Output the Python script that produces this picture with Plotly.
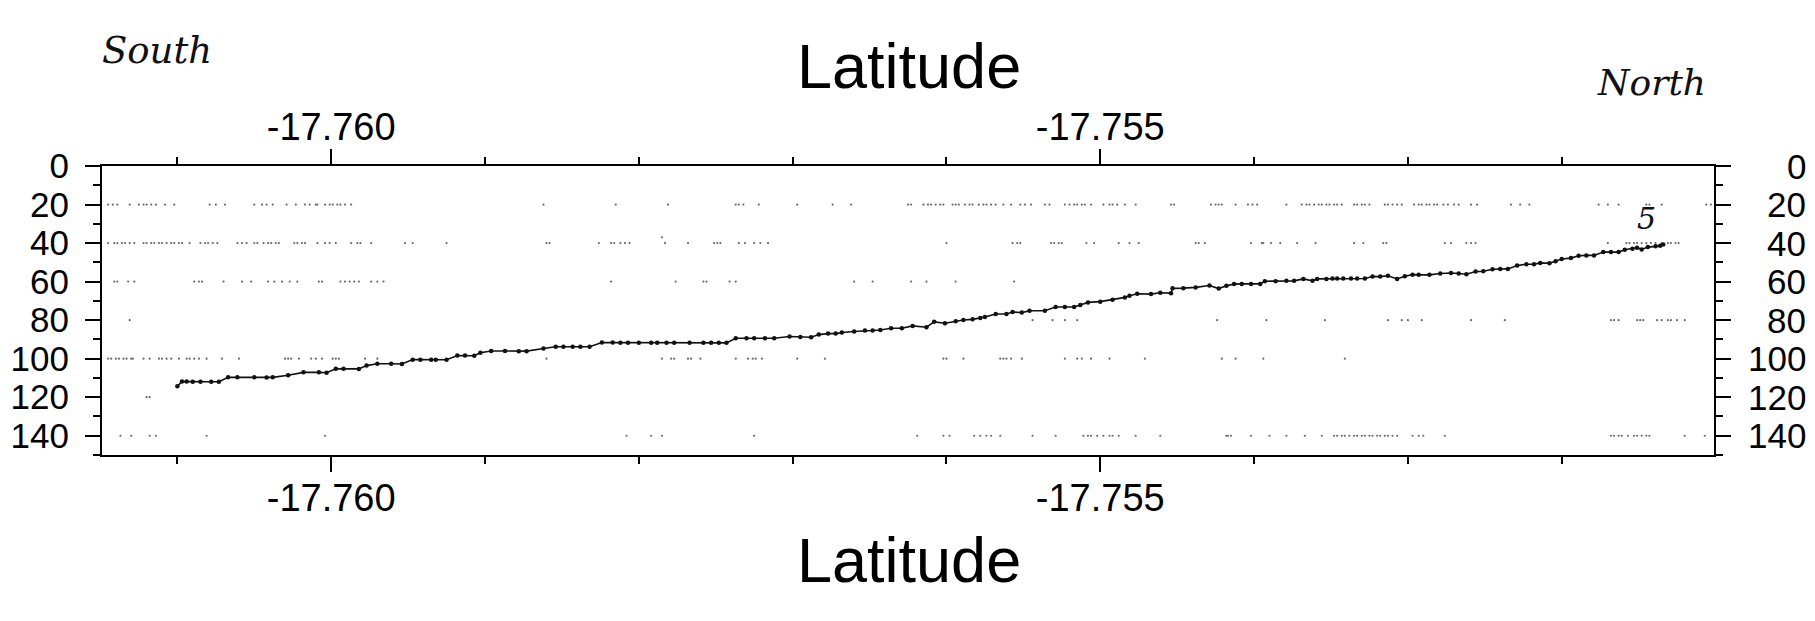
import plotly.graph_objects as go

# ---- main profile (latitude vs depth) ----
lat = [-17.76100, -17.76097, -17.76094, -17.76090, -17.76085, -17.76078, -17.76073, -17.76067, -17.76061,
       -17.76050, -17.76042, -17.76038, -17.76028, -17.76018, -17.76008, -17.76003, -17.75997, -17.75992,
       -17.75982, -17.75977, -17.75970, -17.75961, -17.75954, -17.75947, -17.75942, -17.75935, -17.75932,
       -17.75925, -17.75918, -17.75913, -17.75907, -17.75903, -17.75896, -17.75887, -17.75878, -17.75873,
       -17.75862, -17.75854, -17.75849, -17.75843, -17.75838, -17.75832, -17.75824, -17.75817, -17.75812,
       -17.75807, -17.75800, -17.75792, -17.75788, -17.75782, -17.75777, -17.75767, -17.75758, -17.75753,
       -17.75748, -17.75743, -17.75737, -17.75730, -17.75725, -17.75718, -17.75712, -17.75702, -17.75695,
       -17.75688, -17.75683, -17.75677, -17.75672, -17.75668, -17.75660, -17.75653, -17.75648, -17.75643,
       -17.75636, -17.75629, -17.75622, -17.75613, -17.75608, -17.75601, -17.75594, -17.75589, -17.75583,
       -17.75578, -17.75575, -17.75568, -17.75561, -17.75557, -17.75551, -17.75546, -17.75536, -17.75529,
       -17.75523, -17.75517, -17.75513, -17.75508, -17.75500, -17.75492, -17.75484, -17.75481, -17.75476,
       -17.75467, -17.75461, -17.75454, -17.75453, -17.75446, -17.75438, -17.75429, -17.75423, -17.75418,
       -17.75413, -17.75408, -17.75402, -17.75396, -17.75393, -17.75386, -17.75379, -17.75374, -17.75368,
       -17.75362, -17.75359, -17.75353, -17.75349, -17.75346, -17.75342, -17.75337, -17.75333, -17.75328,
       -17.75323, -17.75318, -17.75313, -17.75307, -17.75302, -17.75297, -17.75293, -17.75286, -17.75279,
       -17.75272, -17.75267, -17.75262, -17.75256, -17.75251, -17.75245, -17.75240, -17.75235, -17.75229,
       -17.75223, -17.75218, -17.75214, -17.75208, -17.75204, -17.75200, -17.75194, -17.75189, -17.75184,
       -17.75179, -17.75173, -17.75168, -17.75163, -17.75159, -17.75154, -17.75151, -17.75148, -17.75144,
       -17.75139, -17.75136, -17.75134]
depth = [114.3, 111.9, 111.9, 112.0, 112.0, 112.0, 112.0, 109.7, 109.7,
         109.7, 109.8, 109.7, 108.6, 107.1, 107.1, 107.3, 105.2, 105.2,
         105.3, 103.6, 102.6, 102.6, 102.8, 100.5, 100.6, 100.6, 100.6,
         100.6, 98.4, 98.4, 98.5, 96.9, 96.0, 96.0, 96.1, 96.1,
         94.7, 93.8, 93.8, 93.8, 93.8, 93.8, 91.6, 91.6, 91.8,
         91.8, 91.8, 91.8, 91.8, 91.8, 91.8, 91.8, 91.7, 91.8,
         91.8, 91.8, 89.4, 89.4, 89.4, 89.4, 89.4, 88.5, 88.7,
         88.9, 87.5, 87.0, 87.0, 86.4, 85.9, 85.4, 85.4, 85.1,
         84.2, 84.2, 83.0, 83.7, 80.9, 81.6, 80.6, 79.9, 79.6,
         78.9, 78.4, 76.8, 76.8, 75.8, 76.1, 75.1, 75.1, 73.2,
         73.2, 73.2, 72.2, 70.8, 70.4, 69.4, 68.2, 67.3, 66.3,
         66.5, 65.8, 66.0, 63.5, 63.4, 63.0, 62.0, 63.6, 62.2,
         61.3, 61.2, 61.2, 61.2, 59.8, 59.8, 59.6, 59.6, 58.6,
         59.6, 58.6, 58.6, 58.4, 58.4, 58.4, 58.4, 58.4, 58.4,
         57.4, 57.4, 57.0, 58.6, 57.2, 56.4, 56.5, 56.5, 55.8,
         55.5, 55.8, 56.2, 54.8, 54.6, 53.6, 53.4, 53.4, 51.7,
         51.0, 51.0, 50.3, 50.5, 49.5, 48.3, 47.8, 46.6, 46.4,
         46.4, 44.7, 44.7, 44.7, 43.5, 43.0, 42.4, 43.3, 42.1,
         41.7, 41.4, 40.7]

# ---- faint background soundings, grouped by depth level ----
bg_lat_20 = [-17.76145, -17.76142, -17.76139, -17.76131, -17.76125, -17.76122, -17.76120, -17.76117, -17.76114,
             -17.76108, -17.76102, -17.76079, -17.76075, -17.76069, -17.76050, -17.76045, -17.76042, -17.76038,
             -17.76029, -17.76023, -17.76017, -17.76014, -17.76010, -17.76009, -17.76004, -17.76001, -17.75999,
             -17.75996, -17.75994, -17.75991, -17.75987, -17.75862, -17.75815, -17.75781, -17.75737, -17.75735,
             -17.75732, -17.75722, -17.75697, -17.75674, -17.75662, -17.75625, -17.75623, -17.75615, -17.75612,
             -17.75610, -17.75607, -17.75604, -17.75602, -17.75596, -17.75594, -17.75592, -17.75588, -17.75585,
             -17.75583, -17.75579, -17.75576, -17.75574, -17.75571, -17.75568, -17.75563, -17.75558, -17.75552,
             -17.75549, -17.75545, -17.75536, -17.75533, -17.75523, -17.75520, -17.75517, -17.75515, -17.75512,
             -17.75510, -17.75506, -17.75498, -17.75494, -17.75492, -17.75489, -17.75484, -17.75477, -17.75454,
             -17.75452, -17.75428, -17.75425, -17.75423, -17.75421, -17.75412, -17.75404, -17.75401, -17.75398,
             -17.75379, -17.75369, -17.75366, -17.75364, -17.75361, -17.75358, -17.75356, -17.75353, -17.75351,
             -17.75348, -17.75346, -17.75343, -17.75335, -17.75333, -17.75330, -17.75328, -17.75325, -17.75315,
             -17.75313, -17.75310, -17.75307, -17.75304, -17.75296, -17.75293, -17.75291, -17.75288, -17.75286,
             -17.75283, -17.75281, -17.75277, -17.75274, -17.75270, -17.75267, -17.75259, -17.75255, -17.75233,
             -17.75227, -17.75221, -17.75176, -17.75170, -17.75163, -17.75145, -17.75143, -17.75135, -17.75106,
             -17.75103]
bg_lat_40 = [-17.76145, -17.76141, -17.76139, -17.76136, -17.76134, -17.76131, -17.76128, -17.76122, -17.76120,
             -17.76117, -17.76115, -17.76112, -17.76110, -17.76107, -17.76104, -17.76102, -17.76099, -17.76097,
             -17.76092, -17.76085, -17.76082, -17.76080, -17.76077, -17.76074, -17.76061, -17.76058, -17.76055,
             -17.76050, -17.76048, -17.76044, -17.76041, -17.76039, -17.76036, -17.76034, -17.76024, -17.76022,
             -17.76019, -17.76017, -17.76009, -17.76004, -17.76001, -17.75997, -17.75987, -17.75983, -17.75981,
             -17.75974, -17.75952, -17.75947, -17.75925, -17.75860, -17.75858, -17.75826, -17.75818, -17.75816,
             -17.75812, -17.75809, -17.75806, -17.75783, -17.75768, -17.75751, -17.75749, -17.75747, -17.75735,
             -17.75731, -17.75725, -17.75721, -17.75716, -17.75600, -17.75557, -17.75554, -17.75552, -17.75532,
             -17.75530, -17.75527, -17.75525, -17.75509, -17.75504, -17.75488, -17.75481, -17.75475, -17.75438,
             -17.75436, -17.75432, -17.75402, -17.75395, -17.75394, -17.75389, -17.75383, -17.75372, -17.75360,
             -17.75335, -17.75329, -17.75316, -17.75314, -17.75276, -17.75272, -17.75262, -17.75259, -17.75256,
             -17.75170, -17.75158, -17.75156, -17.75153, -17.75151, -17.75148, -17.75145, -17.75142, -17.75139,
             -17.75135, -17.75131, -17.75129, -17.75126, -17.75124]
bg_lat_60 = [-17.76141, -17.76139, -17.76132, -17.76128, -17.76089, -17.76086, -17.76084, -17.76070, -17.76058,
             -17.76052, -17.76041, -17.76037, -17.76032, -17.76027, -17.76022, -17.76008, -17.76006, -17.75994,
             -17.75991, -17.75988, -17.75985, -17.75982, -17.75974, -17.75970, -17.75966, -17.75818, -17.75776,
             -17.75758, -17.75756, -17.75741, -17.75737, -17.75660, -17.75648, -17.75623, -17.75613, -17.75594,
             -17.75556]
bg_lat_80 = [-17.76131, -17.75544, -17.75531, -17.75523, -17.75515, -17.75424, -17.75392, -17.75354, -17.75313,
             -17.75304, -17.75300, -17.75291, -17.75259, -17.75237, -17.75168, -17.75166, -17.75163, -17.75151,
             -17.75149, -17.75147, -17.75138, -17.75135, -17.75131, -17.75129, -17.75125, -17.75120]
bg_lat_100 = [-17.76145, -17.76143, -17.76140, -17.76138, -17.76135, -17.76133, -17.76130, -17.76129, -17.76122,
              -17.76118, -17.76112, -17.76110, -17.76107, -17.76104, -17.76099, -17.76094, -17.76092, -17.76089,
              -17.76086, -17.76081, -17.76071, -17.76060, -17.76030, -17.76028, -17.76026, -17.76021, -17.76013,
              -17.76010, -17.76006, -17.75999, -17.75997, -17.75995, -17.75978, -17.75970, -17.75860, -17.75785,
              -17.75779, -17.75777, -17.75768, -17.75766, -17.75760, -17.75737, -17.75729, -17.75726, -17.75724,
              -17.75720, -17.75697, -17.75679, -17.75602, -17.75600, -17.75589, -17.75565, -17.75563, -17.75561,
              -17.75558, -17.75551, -17.75523, -17.75515, -17.75512, -17.75506, -17.75494, -17.75471, -17.75421,
              -17.75412, -17.75394, -17.75341]
bg_lat_120 = [-17.76120, -17.76118]
bg_lat_140 = [-17.76137, -17.76130, -17.76118, -17.76114, -17.76081, -17.76004, -17.75808, -17.75792, -17.75785,
              -17.75725, -17.75619, -17.75602, -17.75598, -17.75582, -17.75578, -17.75574, -17.75571, -17.75565,
              -17.75544, -17.75529, -17.75511, -17.75508, -17.75506, -17.75502, -17.75498, -17.75494, -17.75492,
              -17.75488, -17.75477, -17.75461, -17.75418, -17.75417, -17.75415, -17.75402, -17.75390, -17.75379,
              -17.75367, -17.75356, -17.75348, -17.75346, -17.75343, -17.75341, -17.75338, -17.75335, -17.75333,
              -17.75330, -17.75328, -17.75325, -17.75323, -17.75320, -17.75318, -17.75315, -17.75313, -17.75310,
              -17.75307, -17.75297, -17.75293, -17.75290, -17.75276, -17.75168, -17.75166, -17.75163, -17.75161,
              -17.75157, -17.75153, -17.75151, -17.75148, -17.75145, -17.75143, -17.75120, -17.75107]
bg_extra_lat = [-17.75785]
bg_extra_depth = [37]

# ---- axes / labels ----
x_range = [-17.76149, -17.75101]
y_range = [150, 0]
x_tickvals = [-17.760, -17.755]
x_ticktext = ["-17.760", "-17.755"]
y_tickvals = [0, 20, 40, 60, 80, 100, 120, 140]
y_ticktext = ["0", "20", "40", "60", "80", "100", "120", "140"]
axis_title = "Latitude"

FONT = "Liberation Sans, Arial, Helvetica, sans-serif"
HAND = "DejaVu Serif, serif"

bg_x, bg_y = [], []
for lvl, arr in [(20, bg_lat_20), (40, bg_lat_40), (60, bg_lat_60), (80, bg_lat_80),
                 (100, bg_lat_100), (120, bg_lat_120), (140, bg_lat_140)]:
    bg_x += arr
    bg_y += [lvl] * len(arr)
bg_x += bg_extra_lat
bg_y += bg_extra_depth

fig = go.Figure()
fig.add_trace(go.Scatter(x=bg_x, y=bg_y, mode="markers",
                         marker=dict(size=2.2, color="#6a6a6a", line=dict(width=0)),
                         hoverinfo="skip", showlegend=False))
fig.add_trace(go.Scatter(x=lat, y=depth, mode="lines+markers",
                         line=dict(color="#111111", width=1.6),
                         marker=dict(size=4.5, color="#111111"),
                         showlegend=False))
# invisible trace to anchor the top/right axes
fig.add_trace(go.Scatter(x=[lat[0]], y=[depth[0]], xaxis="x2", yaxis="y2",
                         mode="markers", marker=dict(opacity=0), hoverinfo="skip",
                         showlegend=False))

common_x = dict(range=x_range, tickvals=x_tickvals, ticktext=x_ticktext, automargin=False,
                ticks="outside", ticklen=15, tickwidth=1.5, tickcolor="black",
                showline=True, linecolor="black", linewidth=2, showgrid=False, zeroline=False,
                tickfont=dict(family=FONT, size=38, color="black"),
                minor=dict(tick0=-17.760, dtick=0.001, ticks="outside", ticklen=7,
                           tickwidth=1.5, tickcolor="black", showgrid=False))
common_y = dict(range=y_range, tickvals=y_tickvals, ticktext=y_ticktext, automargin=False,
                ticks="outside", ticklen=15, tickwidth=1.5, tickcolor="black",
                showline=True, linecolor="black", linewidth=2, showgrid=False, zeroline=False,
                tickfont=dict(family=FONT, size=35, color="black"),
                minor=dict(tick0=0, dtick=10, ticks="outside", ticklen=7,
                           tickwidth=1.5, tickcolor="black", showgrid=False))

fig.update_layout(
    width=1815, height=621,
    margin=dict(l=94, r=109, t=158, b=174, autoexpand=False),
    paper_bgcolor="white", plot_bgcolor="white",
    xaxis=dict(**common_x, side="bottom", ticklabelstandoff=-7),
    xaxis2=dict(**common_x, side="top", overlaying="x", anchor="y", ticklabelstandoff=-6),
    yaxis=dict(**common_y, side="left", ticklabelstandoff=9),
    yaxis2=dict(**common_y, side="right", overlaying="y", anchor="x", showticklabels=False),
)

annotations = []
# right-hand depth labels, right aligned like the original
for v, t in zip(y_tickvals, y_ticktext):
    annotations.append(dict(x=1.0585, y=v, xref="paper", yref="y", text=t, showarrow=False,
                            xanchor="right", yanchor="middle",
                            font=dict(family=FONT, size=35, color="black")))
annotations += [
    dict(x=0.5006, y=1.345, xref="paper", yref="paper", text=axis_title, showarrow=False,
         xanchor="center", yanchor="middle", font=dict(family=FONT, size=63, color="black")),
    dict(x=0.5006, y=-0.365, xref="paper", yref="paper", text=axis_title, showarrow=False,
         xanchor="center", yanchor="middle", font=dict(family=FONT, size=63, color="black")),
    dict(x=0.034, y=1.40, xref="paper", yref="paper", text="South", showarrow=False,
         xanchor="center", yanchor="middle",
         font=dict(family=HAND, size=37, color="#111111", style="italic")),
    dict(x=0.9615, y=1.29, xref="paper", yref="paper", text="North", showarrow=False,
         xanchor="center", yanchor="middle",
         font=dict(family=HAND, size=36, color="#111111", style="italic")),
    dict(x=-17.75145, y=27, xref="x", yref="y", text="5", showarrow=False,
         xanchor="center", yanchor="middle",
         font=dict(family=HAND, size=30, color="#111111", style="italic")),
]
fig.update_layout(annotations=annotations)

fig.write_html("out.html")
